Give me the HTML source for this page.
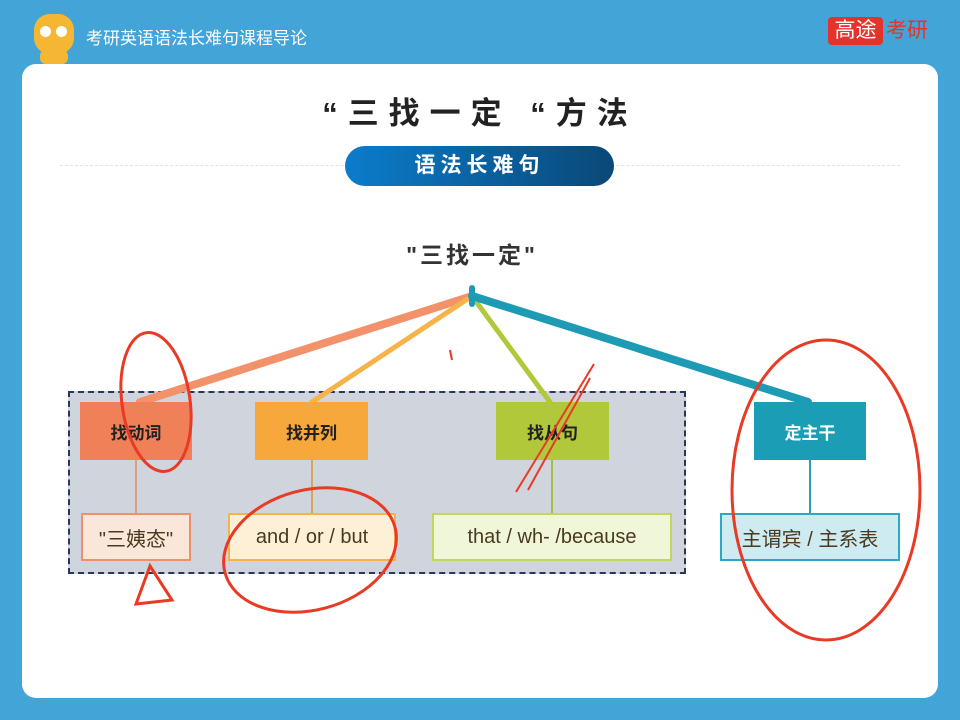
<!DOCTYPE html>
<html><head><meta charset="utf-8"><style>
body{margin:0;width:960px;height:720px;background:#43a4d8;position:relative;overflow:hidden;font-family:"Liberation Sans","Noto Sans CJK SC",sans-serif}
.abs{position:absolute}
.card{left:22px;top:64px;width:916px;height:634px;background:#fff;border-radius:14px}
.box{position:absolute;display:flex;align-items:center;justify-content:center;font-weight:bold;font-size:17px;color:#222;box-sizing:border-box}
.sb{position:absolute;display:flex;align-items:center;justify-content:center;font-size:20px;color:#4a3a20;box-sizing:border-box;border:2px solid}
</style></head><body>
<div class="abs" style="left:34px;top:14px;width:40px;height:40px;background:#f5b733;border-radius:40%"></div>
<div class="abs" style="left:40px;top:26px;width:11px;height:11px;background:#fff;border-radius:50%"></div>
<div class="abs" style="left:56px;top:26px;width:11px;height:11px;background:#fff;border-radius:50%"></div>
<div class="abs" style="left:40px;top:50px;width:28px;height:14px;background:#f5b733;border-radius:6px"></div>
<div class="abs" style="left:86px;top:24px;color:#fff;font-size:17px">考研英语语法长难句课程导论</div>
<div class="abs" style="left:828px;top:17px;width:55px;height:28px;background:#e5322d;border-radius:4px;color:#fff;font-size:21px;text-align:center;line-height:28px">高途</div>
<div class="abs" style="left:886px;top:17px;color:#e5322d;font-size:21px;line-height:28px">考研</div>
<div class="abs card"></div>
<div class="abs" style="left:0;width:960px;top:88px;text-align:center;font-size:31px;font-weight:bold;color:#222;letter-spacing:10px">“三找一定 “方法</div>
<div class="abs" style="left:60px;top:165px;width:840px;border-top:1px dashed #e2e2e2"></div>
<div class="abs" style="left:345px;top:146px;width:269px;height:40px;border-radius:20px;background:linear-gradient(90deg,#0b7ccb,#0a4877);color:#fff;font-size:21px;font-weight:bold;text-align:center;line-height:40px;letter-spacing:5px">语法长难句</div>
<div class="abs" style="left:372px;top:236px;width:200px;text-align:center;font-size:23px;font-weight:bold;color:#333;letter-spacing:3px">"三找一定"</div>
<div class="abs" style="left:68px;top:391px;width:614px;height:179px;background:#cfd4dd;border:2px dashed #2a3560"></div>
<svg class="abs" style="left:0;top:0" width="960" height="720">
<g stroke-linecap="round">
<line x1="472" y1="296" x2="140" y2="402" stroke="#f2916a" stroke-width="8"/>
<line x1="472" y1="296" x2="312" y2="402" stroke="#f6b34a" stroke-width="5"/>
<line x1="472" y1="296" x2="550" y2="402" stroke="#b1c83a" stroke-width="5"/>
<line x1="472" y1="296" x2="808" y2="402" stroke="#1d9bb5" stroke-width="8"/>
<line x1="472" y1="288" x2="472" y2="304" stroke="#1d9bb5" stroke-width="6"/>
<line x1="136" y1="460" x2="136" y2="513" stroke="#e39b80" stroke-width="2"/>
<line x1="312" y1="460" x2="312" y2="513" stroke="#d6a55a" stroke-width="2"/>
<line x1="552" y1="460" x2="552" y2="513" stroke="#a8bd40" stroke-width="2"/>
<line x1="810" y1="460" x2="810" y2="513" stroke="#2aa0b8" stroke-width="2"/>
</g></svg>
<div class="box" style="left:80px;top:402px;width:112px;height:58px;background:#f08058">找动词</div>
<div class="box" style="left:255px;top:402px;width:113px;height:58px;background:#f6a83c">找并列</div>
<div class="box" style="left:496px;top:402px;width:113px;height:58px;background:#b1c83a">找从句</div>
<div class="box" style="left:754px;top:402px;width:112px;height:58px;background:#1b9db5;color:#fff">定主干</div>
<div class="sb" style="left:81px;top:513px;width:110px;height:48px;background:#fbe6da;border-color:#f0906a">"三姨态"</div>
<div class="sb" style="left:228px;top:513px;width:168px;height:48px;background:#fdf0d6;border-color:#f6b34a">and / or / but</div>
<div class="sb" style="left:432px;top:513px;width:240px;height:48px;background:#f0f6d8;border-color:#c1d65a">that / wh- /because</div>
<div class="sb" style="left:720px;top:513px;width:180px;height:48px;background:#cdebf1;border-color:#2aa9c0">主谓宾 / 主系表</div>
<svg class="abs" style="left:0;top:0" width="960" height="720" fill="none" stroke="#e83a24" stroke-width="3">
<ellipse cx="156" cy="402" rx="34" ry="70" transform="rotate(-8 156 402)"/>
<ellipse cx="310" cy="550" rx="88" ry="60" transform="rotate(-15 310 550)"/>
<ellipse cx="826" cy="490" rx="94" ry="150"/>
<path d="M150 566 L136 604 L172 600 Z"/>
<path d="M516 492 L594 364 M528 490 L590 378" stroke-width="2"/>
<path d="M450 350 L452 360" stroke-width="2"/>
</svg>
</body></html>
